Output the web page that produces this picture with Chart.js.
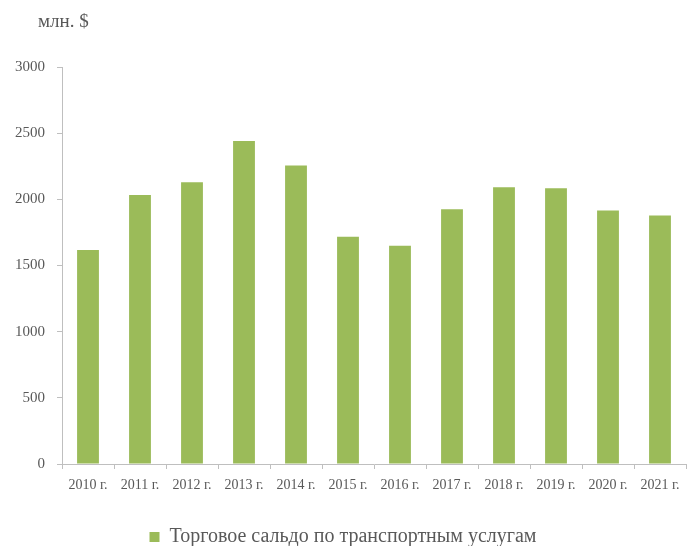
<!DOCTYPE html>
<html>
<head>
<meta charset="utf-8">
<style>
  html, body { margin: 0; padding: 0; background: #fff; }
  #wrap { width: 690px; height: 546px; position: relative; }
</style>
<script src="https://cdn.jsdelivr.net/npm/chart.js@4/dist/chart.umd.min.js"></script>
</head>
<body>
<div id="wrap"><canvas id="chart"></canvas></div>
<script>
const years = ['2010 г.', '2011 г.', '2012 г.', '2013 г.', '2014 г.', '2015 г.',
               '2016 г.', '2017 г.', '2018 г.', '2019 г.', '2020 г.', '2021 г.'];
const balance = [1617, 2033, 2129, 2441, 2255, 1718, 1650, 1925, 2091, 2084, 1915, 1877];
const seriesName = 'Торговое сальдо по транспортным услугам';
const unitLabel = 'млн. $';

const axisGray = '#bfbfbf';
const textGray = '#595959';
const barGreen = '#9bbb59';
const serif = '"Liberation Serif", "DejaVu Serif", serif';

// unit caption in the top-left corner
const unitCaption = {
    id: 'unitCaption',
    afterDraw(chart) {
        const ctx = chart.ctx;
        ctx.save();
        ctx.font = '19px ' + serif;
        ctx.fillStyle = textGray;
        ctx.textBaseline = 'middle';
        ctx.fillText(unitLabel, 38, 22);
        ctx.restore();
    }
};

const ctx = document.getElementById('chart').getContext('2d');
new Chart(ctx, {
    type: 'bar',
    data: {
        labels: years,
        datasets: [{
            label: seriesName,
            data: balance,
            backgroundColor: barGreen,
            categoryPercentage: 1,
            barPercentage: 0.42
        }]
    },
    options: {
        responsive: true,
        maintainAspectRatio: false,
        animation: false,
        // negative bottom padding pushes the legend down to where it sits in the source
        layout: { padding: { top: 67, right: 4, left: 0, bottom: -11 } },
        plugins: {
            legend: {
                position: 'bottom',
                labels: {
                    boxWidth: 10,
                    boxHeight: 10,
                    padding: 2,
                    color: textGray,
                    font: { family: serif, size: 20 }
                }
            },
            tooltip: { enabled: false }
        },
        scales: {
            x: {
                afterFit(scale) { scale.height = 61; },
                grid: { drawOnChartArea: false, color: axisGray, tickLength: 5, offset: true },
                border: { color: axisGray },
                ticks: {
                    color: textGray,
                    font: { family: serif, size: 14 },
                    maxRotation: 0,
                    autoSkip: false,
                    padding: 8
                }
            },
            y: {
                min: 0,
                max: 3000,
                afterFit(scale) { scale.width = 62; },
                grid: { drawOnChartArea: false, color: axisGray, tickLength: 5 },
                border: { color: axisGray },
                ticks: {
                    stepSize: 500,
                    color: textGray,
                    font: { family: serif, size: 15 },
                    padding: 12,
                    callback: (v) => String(v)
                }
            }
        }
    },
    plugins: [unitCaption]
});
</script>
</body>
</html>
